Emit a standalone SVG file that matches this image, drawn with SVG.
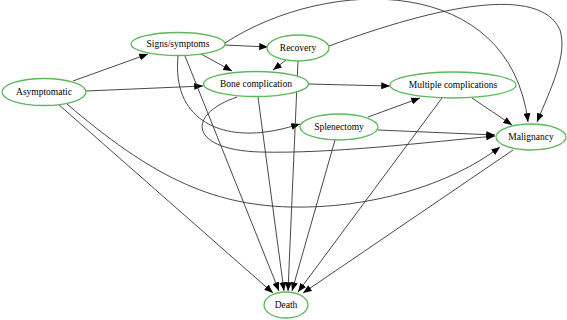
<svg xmlns="http://www.w3.org/2000/svg" width="567" height="320" viewBox="0 0 567 320">
<defs>
<marker id="a" viewBox="0 0 10 8" refX="10" refY="4" markerWidth="9" markerHeight="7" markerUnits="userSpaceOnUse" orient="auto">
<path d="M0,0 L10,4 L0,8 Z" fill="#000"/>
</marker>
<style>
.n ellipse{fill:#fff;stroke:#5cb85c;stroke-width:1.3}
.n text{font-family:"Liberation Serif","Times New Roman",serif;font-size:9.5px;fill:#000;text-anchor:middle;dominant-baseline:central}
#edges path{fill:none;stroke:#333;stroke-width:0.9;marker-end:url(#a)}
</style>
</defs>
<rect width="567" height="320" fill="#fff"/>
<g id="edges">
<path d="M73,81 L148,54"/>
<path d="M86,91 L203,86"/>
<path d="M58,104 L273,293"/>
<path d="M67,104 C150,175 210,205 290,207 C370,209 450,185 500,147"/>
<path d="M225,45 L268,47"/>
<path d="M201,54 L232,71"/>
<path d="M225,43 C330,-25 510,-25 528,122"/>
<path d="M329,46 C440,5 540,-15 560,30 C568,55 550,90 537,122"/>
<path d="M185,56 L279,291"/>
<path d="M178,56 C172,120 220,138 265,132 C280,130 290,127 300,124"/>
<path d="M286,60 L273,70"/>
<path d="M298,61 L288,291"/>
<path d="M308,84 L390,86"/>
<path d="M258,97 L284,291"/>
<path d="M237,97 C185,115 190,150 260,152 C330,154 430,142 495,136"/>
<path d="M368,117 L420,98"/>
<path d="M378,130 L495,135"/>
<path d="M335,140 L292,291"/>
<path d="M472,98 L512,125"/>
<path d="M442,98 L298,292"/>
<path d="M513,150 L303,293"/>
</g>
<g id="asymptomatic" class="n"><ellipse cx="44" cy="92" rx="42" ry="13.5"/><text x="44" y="92">Asymptomatic</text></g>
<g id="signs" class="n"><ellipse cx="178" cy="44" rx="47" ry="11.5"/><text x="178" y="44">Signs/symptoms</text></g>
<g id="recovery" class="n"><ellipse cx="298" cy="48" rx="31" ry="13"/><text x="298" y="48">Recovery</text></g>
<g id="bone" class="n"><ellipse cx="256" cy="84" rx="52.5" ry="12.5"/><text x="256" y="84">Bone complication</text></g>
<g id="multiple" class="n"><ellipse cx="453" cy="85" rx="63" ry="13"/><text x="453" y="85">Multiple complications</text></g>
<g id="splenectomy" class="n"><ellipse cx="339" cy="127" rx="39" ry="13"/><text x="339" y="127">Splenectomy</text></g>
<g id="malignancy" class="n"><ellipse cx="531" cy="137" rx="35" ry="13"/><text x="531" y="137">Malignancy</text></g>
<g id="death" class="n"><ellipse cx="286" cy="305" rx="22" ry="13"/><text x="286" y="305">Death</text></g>
</svg>
